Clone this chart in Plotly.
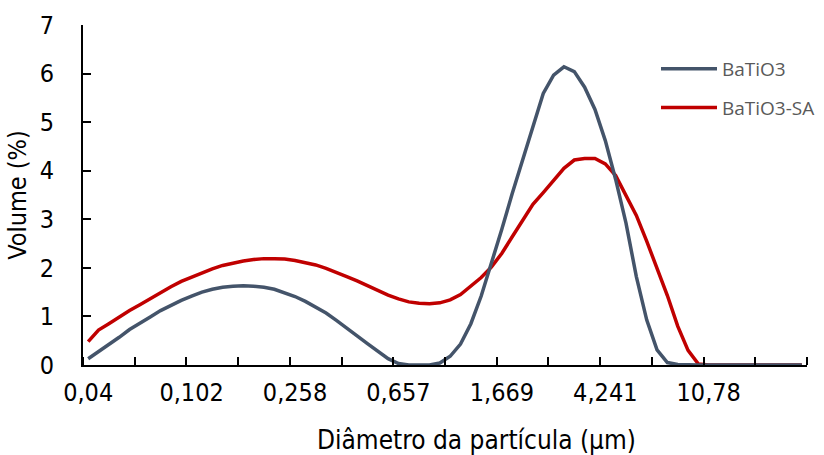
import plotly.graph_objects as go

# category index (70 size classes, labels every 10th class)
n_classes = 70
tick_labels = ["0,04", "0,102", "0,258", "0,657", "1,669", "4,241", "10,78"]

batio3 = [0.13, 0.27, 0.41, 0.57, 0.73, 0.87, 0.99, 1.12, 1.23, 1.33,
          1.42, 1.50, 1.56, 1.60, 1.62, 1.63, 1.62, 1.60, 1.56, 1.49,
          1.41, 1.31, 1.20, 1.07, 0.92, 0.77, 0.60, 0.44, 0.28, 0.13,
          0.03, 0.0, 0.0, 0.0, 0.04, 0.18, 0.43, 0.85, 1.42, 2.10,
          2.80, 3.53, 4.22, 4.90, 5.59, 5.97, 6.14, 6.04, 5.72, 5.26,
          4.62, 3.82, 2.92, 1.82, 0.93, 0.31, 0.05, 0.01, 0.0, 0.0,
          0.0, 0.0, 0.0, 0.0, 0.0, 0.0, 0.0, 0.0, 0.0, 0.0]

batio3_sa = [0.48, 0.72, 0.85, 0.99, 1.12, 1.24, 1.37, 1.50, 1.61, 1.72,
             1.81, 1.90, 1.98, 2.05, 2.10, 2.14, 2.17, 2.19, 2.19, 2.18,
             2.15, 2.11, 2.06, 1.99, 1.91, 1.82, 1.73, 1.63, 1.54, 1.44,
             1.36, 1.30, 1.27, 1.26, 1.28, 1.34, 1.45, 1.62, 1.80, 2.02,
             2.30, 2.64, 2.98, 3.31, 3.55, 3.80, 4.05, 4.22, 4.25, 4.25,
             4.14, 3.90, 3.50, 3.08, 2.55, 2.00, 1.43, 0.80, 0.30, 0.02,
             0.0, 0.0, 0.0, 0.0, 0.0, 0.0, 0.0, 0.0, 0.0, 0.0]

x = list(range(n_classes))

fig = go.Figure()
fig.add_trace(go.Scatter(x=x, y=batio3_sa, mode="lines", name="BaTiO3-SA",
                         line=dict(color="#C00000", width=3.5),
                         legendgroup="b", legendrank=2))
fig.add_trace(go.Scatter(x=x, y=batio3, mode="lines", name="BaTiO3",
                         line=dict(color="#44546A", width=3.5),
                         legendgroup="a", legendrank=1))

FONT = "DejaVu Sans Condensed, Liberation Sans, sans-serif"
tick_font = dict(family=FONT, size=25, color="black")

fig.update_layout(
    width=824, height=455,
    margin=dict(l=83, r=17, t=25, b=90, autoexpand=False),
    paper_bgcolor="white", plot_bgcolor="white",
    showlegend=True,
    legend=dict(xref="container", yref="container",
                x=656 / 824, y=1 - 50 / 455, xanchor="left", yanchor="top",
                font=dict(family="Open Sans, sans-serif", size=19, color="#595959"),
                bgcolor="rgba(0,0,0,0)", tracegroupgap=11, itemwidth=56,
                traceorder="grouped"),
    xaxis=dict(range=[-0.5, n_classes - 0.5],
               tickmode="array", tickvals=[10 * k for k in range(len(tick_labels))],
               ticktext=tick_labels, ticks="", showgrid=False, zeroline=False,
               showline=True, linecolor="black", linewidth=2,
               tickfont=tick_font, ticklabelstandoff=4,
               minor=dict(tickmode="array",
                          tickvals=[-0.5 + 5 * k for k in range(15)],
                          ticks="inside", ticklen=8, tickwidth=2,
                          tickcolor="black", showgrid=False)),
    yaxis=dict(range=[0, 7], dtick=1, ticks="inside", ticklen=8, tickwidth=2,
               tickcolor="black", showline=True, linecolor="black", linewidth=2,
               showgrid=False, zeroline=False, tickfont=tick_font,
               ticklabelstandoff=22,
               title=dict(text="Volume (%)", standoff=6,
                          font=dict(family=FONT, size=25, color="black"))),
    annotations=[dict(text="Diâmetro da partícula (µm)", xref="paper", yref="paper",
                      x=(476 - 83) / 724, y=-0.22, xanchor="center", yanchor="middle",
                      showarrow=False,
                      font=dict(family=FONT, size=26, color="black"))],
)

fig.write_html("out.html")
